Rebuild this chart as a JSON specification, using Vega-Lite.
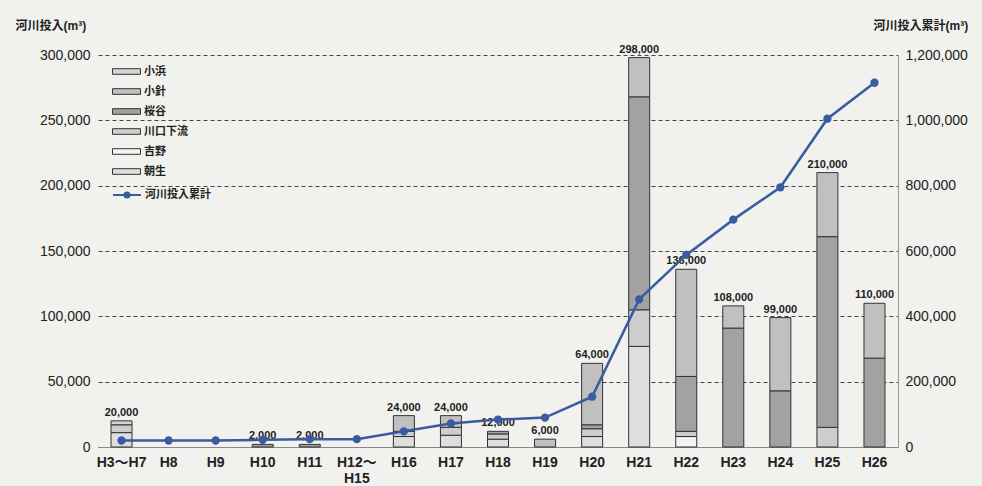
{
  "$schema": "https://vega.github.io/schema/vega-lite/v6.json",
  "width": 800,
  "height": 392,
  "autosize": "none",
  "padding": {"left": 98, "top": 55, "right": 84, "bottom": 39},
  "background": "#f1f1ee",
  "config": {
    "font": "Liberation Sans, Noto Sans CJK JP",
    "view": {"stroke": null}
  },
  "datasets": {
    "parts": [
      {"period": "H3～H7", "site": "朝生", "amount": 11000},
      {"period": "H3～H7", "site": "川口下流", "amount": 6000},
      {"period": "H3～H7", "site": "小浜", "amount": 3000},
      {"period": "H10", "site": "桜谷", "amount": 2000},
      {"period": "H11", "site": "桜谷", "amount": 2000},
      {"period": "H16", "site": "朝生", "amount": 8000},
      {"period": "H16", "site": "川口下流", "amount": 4000},
      {"period": "H16", "site": "小針", "amount": 12000},
      {"period": "H17", "site": "朝生", "amount": 9000},
      {"period": "H17", "site": "川口下流", "amount": 6000},
      {"period": "H17", "site": "小針", "amount": 9000},
      {"period": "H18", "site": "朝生", "amount": 6000},
      {"period": "H18", "site": "川口下流", "amount": 4000},
      {"period": "H18", "site": "桜谷", "amount": 2000},
      {"period": "H19", "site": "小針", "amount": 6000},
      {"period": "H20", "site": "朝生", "amount": 8000},
      {"period": "H20", "site": "川口下流", "amount": 6000},
      {"period": "H20", "site": "桜谷", "amount": 3000},
      {"period": "H20", "site": "小針", "amount": 47000},
      {"period": "H21", "site": "朝生", "amount": 77000},
      {"period": "H21", "site": "川口下流", "amount": 28000},
      {"period": "H21", "site": "桜谷", "amount": 163000},
      {"period": "H21", "site": "小針", "amount": 30000},
      {"period": "H22", "site": "吉野", "amount": 8000},
      {"period": "H22", "site": "川口下流", "amount": 4000},
      {"period": "H22", "site": "桜谷", "amount": 42000},
      {"period": "H22", "site": "小針", "amount": 82000},
      {"period": "H23", "site": "桜谷", "amount": 91000},
      {"period": "H23", "site": "小針", "amount": 17000},
      {"period": "H24", "site": "桜谷", "amount": 43000},
      {"period": "H24", "site": "小針", "amount": 56000},
      {"period": "H25", "site": "川口下流", "amount": 15000},
      {"period": "H25", "site": "桜谷", "amount": 146000},
      {"period": "H25", "site": "小針", "amount": 49000},
      {"period": "H26", "site": "桜谷", "amount": 68000},
      {"period": "H26", "site": "小針", "amount": 42000}
    ],
    "totals": [
      {"period": "H3～H7", "total": 20000, "cum": 20000, "series": "河川投入累計"},
      {"period": "H8", "total": 0, "cum": 20000, "series": "河川投入累計"},
      {"period": "H9", "total": 0, "cum": 20000, "series": "河川投入累計"},
      {"period": "H10", "total": 2000, "cum": 22000, "series": "河川投入累計"},
      {"period": "H11", "total": 2000, "cum": 24000, "series": "河川投入累計"},
      {"period": "H12～H15", "total": 0, "cum": 24000, "series": "河川投入累計"},
      {"period": "H16", "total": 24000, "cum": 48000, "series": "河川投入累計"},
      {"period": "H17", "total": 24000, "cum": 72000, "series": "河川投入累計"},
      {"period": "H18", "total": 12000, "cum": 84000, "series": "河川投入累計"},
      {"period": "H19", "total": 6000, "cum": 90000, "series": "河川投入累計"},
      {"period": "H20", "total": 64000, "cum": 154000, "series": "河川投入累計"},
      {"period": "H21", "total": 298000, "cum": 452000, "series": "河川投入累計"},
      {"period": "H22", "total": 136000, "cum": 588000, "series": "河川投入累計"},
      {"period": "H23", "total": 108000, "cum": 696000, "series": "河川投入累計"},
      {"period": "H24", "total": 99000, "cum": 795000, "series": "河川投入累計"},
      {"period": "H25", "total": 210000, "cum": 1005000, "series": "河川投入累計"},
      {"period": "H26", "total": 110000, "cum": 1115000, "series": "河川投入累計"}
    ]
  },
  "encoding": {
    "x": {
      "field": "period",
      "type": "nominal",
      "scale": {
        "domain": ["H3～H7", "H8", "H9", "H10", "H11", "H12～H15", "H16", "H17", "H18", "H19", "H20", "H21", "H22", "H23", "H24", "H25", "H26"],
        "paddingInner": 0.56,
        "paddingOuter": 0.28
      },
      "axis": {
        "title": null,
        "labelAngle": 0,
        "labelFontSize": 14,
        "labelFontWeight": "bold",
        "labelColor": "#222",
        "labelPadding": 8,
        "ticks": false,
        "domainColor": "#888",
        "labelExpr": "datum.value == 'H12～H15' ? ['H12～', 'H15'] : datum.value"
      }
    }
  },
  "layer": [
    {
      "layer": [
        {
          "data": {"name": "parts"},
          "transform": [
            {"calculate": "indexof(['朝生', '吉野', '川口下流', '桜谷', '小針', '小浜'], datum.site)", "as": "stackIndex"}
          ],
          "mark": {"type": "bar", "width": 21, "stroke": "#333", "strokeWidth": 1},
          "encoding": {
            "y": {
              "field": "amount",
              "type": "quantitative",
              "aggregate": "sum",
              "scale": {"domain": [0, 300000]},
              "axis": {
                "title": "河川投入(m³)",
                "titleAngle": 0,
                "titleAlign": "left",
                "titleBaseline": "middle",
                "titleX": -83,
                "titleY": -30,
                "titleFontSize": 12,
                "titleFontWeight": "bold",
                "titleColor": "#222",
                "values": [0, 50000, 100000, 150000, 200000, 250000, 300000],
                "labelExpr": "format(datum.value, ',')",
                "labelFontSize": 14,
                "labelColor": "#222",
                "labelPadding": 8,
                "ticks": false,
                "domain": false,
                "grid": true,
                "gridColor": "#444",
                "gridDash": [4, 3],
                "gridWidth": 1
              }
            },
            "order": {"field": "stackIndex", "type": "quantitative", "sort": "ascending"},
            "fill": {
              "field": "site",
              "type": "nominal",
              "scale": {
                "domain": ["小浜", "小針", "桜谷", "川口下流", "吉野", "朝生"],
                "range": ["#d4d4d4", "#c0c0c0", "#a2a2a2", "#cdcdcd", "#f3f3f3", "#dedede"]
              },
              "legend": {
                "orient": "none",
                "legendX": 14,
                "legendY": 2,
                "title": null,
                "symbolType": "M-1,-0.2H1V0.2H-1Z",
                "symbolSize": 784,
                "symbolStrokeColor": "#333",
                "symbolStrokeWidth": 1,
                "labelFontSize": 11,
                "labelFontWeight": "bold",
                "labelColor": "#222",
                "labelOffset": 3,
                "rowPadding": 0
              }
            }
          }
        },
        {
          "data": {"name": "totals"},
          "transform": [{"filter": "datum.total > 0"}],
          "mark": {"type": "text", "dy": -8, "fontSize": 11, "fontWeight": "bold", "color": "#222"},
          "encoding": {
            "y": {"field": "total", "type": "quantitative"},
            "text": {"field": "total", "type": "quantitative", "format": ","}
          }
        }
      ]
    },
    {
      "data": {"name": "totals"},
      "mark": {"type": "line", "strokeWidth": 2.5, "point": {"size": 40, "filled": true, "color": "#3a5ba0"}},
      "encoding": {
        "y": {
          "field": "cum",
          "type": "quantitative",
          "scale": {"domain": [0, 1200000]},
          "axis": {
            "orient": "right",
            "title": "河川投入累計(m³)",
            "titleAngle": 0,
            "titleAlign": "left",
            "titleBaseline": "middle",
            "titleX": -25,
            "titleY": -30,
            "titleFontSize": 12,
            "titleFontWeight": "bold",
            "titleColor": "#222",
            "values": [0, 200000, 400000, 600000, 800000, 1000000, 1200000],
            "labelExpr": "format(datum.value, ',')",
            "labelFontSize": 14,
            "labelColor": "#222",
            "labelPadding": 7,
            "ticks": false,
            "domainColor": "#999",
            "grid": false
          }
        },
        "stroke": {
          "field": "series",
          "type": "nominal",
          "scale": {"range": ["#3a5ba0"]},
          "legend": {
            "orient": "none",
            "legendX": 14,
            "legendY": 125,
            "title": null,
            "symbolType": "M-1,0H1M-0.18,0A0.18,0.18,0,1,1,0.18,0A0.18,0.18,0,1,1,-0.18,0",
            "symbolSize": 784,
            "symbolStrokeWidth": 2,
            "symbolFillColor": "#3a5ba0",
            "labelFontSize": 11,
            "labelFontWeight": "bold",
            "labelColor": "#222",
            "labelOffset": 3
          }
        }
      }
    }
  ],
  "resolve": {"scale": {"y": "independent"}}
}
